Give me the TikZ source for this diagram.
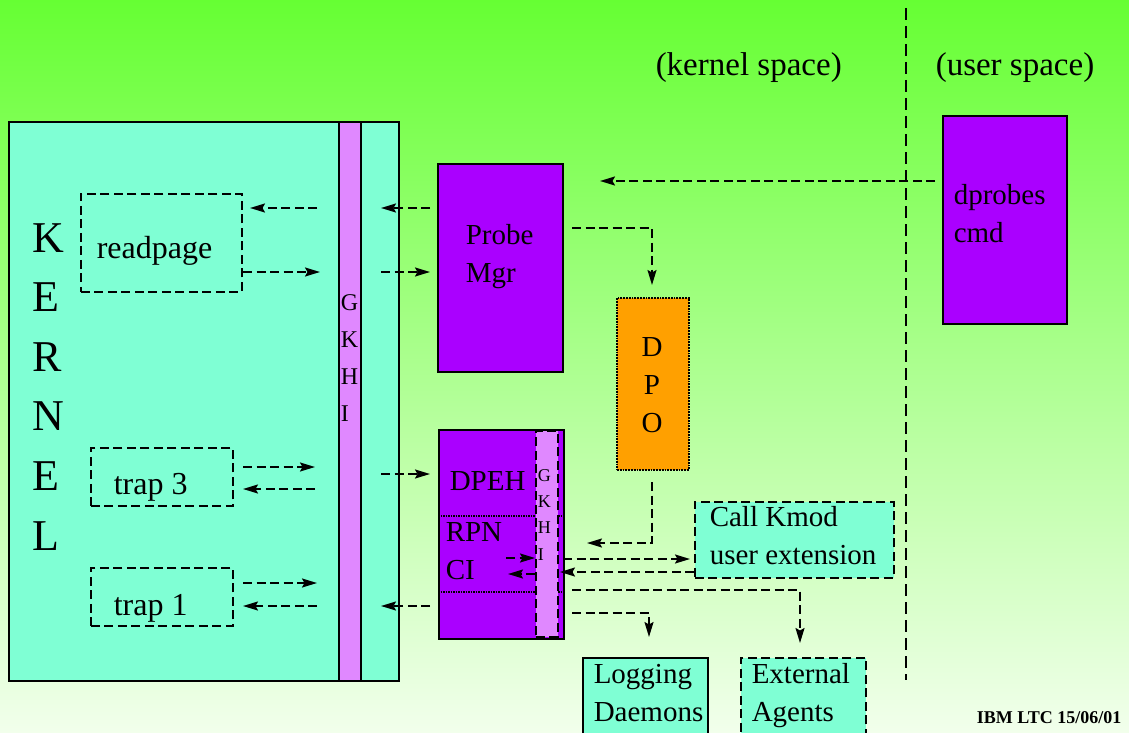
\documentclass[tikz,border=0pt]{standalone}
\usepackage{fontspec}
\setmainfont{Liberation Serif}
\usetikzlibrary{arrows.meta}

\begin{document}
\begin{tikzpicture}[x=1pt, y=-1pt, line width=1.5pt]
\definecolor{topgreen}{RGB}{102, 255, 51}
\definecolor{botgreen}{RGB}{242, 255, 236}
\definecolor{kernaqua}{RGB}{127, 255, 212}
\definecolor{probeviolet}{RGB}{170, 0, 255}
\definecolor{hookpink}{RGB}{224, 136, 255}
\definecolor{dpoorange}{RGB}{255, 160, 0}
\tikzset{
    box/.style={draw, line width=1.8pt, anchor=north west, inner sep=0pt},
    dashbox/.style={box, dash pattern=on 9pt off 4.5pt},
    flow/.style={-{Stealth[length=15pt, width=9pt, inset=2.5pt]}, line width=1.8pt, dash pattern=on 9pt off 4.5pt},
    txt/.style={font=\fontsize{29}{38}\selectfont, align=left, inner sep=0pt, anchor=base west},
    bigtxt/.style={txt, font=\fontsize{32}{38}\selectfont},
    hooktxt/.style={txt, font=\fontsize{24}{37}\selectfont},
}
\useasboundingbox (0,0) rectangle (1129,733);
\shade[top color=topgreen, bottom color=botgreen] (0,0) rectangle (1129,733);
% kernel side (multi-line texts sit on their last baseline)
\node[box, fill=kernaqua, minimum width=390pt, minimum height=559pt] (kernel) at (8,121) {};
\node[box, fill=hookpink, minimum width=22pt, minimum height=559pt] (gkhi) at (338,121) {};
\node[txt, font=\fontsize{44}{59.6}\selectfont] (kname) at (32,550) {K\\E\\R\\N\\E\\L};
\node[hooktxt] (gkhiname) at (340,421) {G\\K\\H\\I};
\node[dashbox, minimum width=161pt, minimum height=98pt] (readbox) at (80,193) {};
\node[bigtxt] (readname) at (96,258) {readpage};
\node[dashbox, minimum width=142pt, minimum height=58pt] (trapthree) at (90,447) {};
\node[bigtxt] (trapthreename) at (113,494) {trap 3};
\node[dashbox, minimum width=142pt, minimum height=58pt] (trapone) at (90,567) {};
\node[bigtxt] (traponename) at (113,615) {trap 1};
% probe manager, DPO, command
\node[box, fill=probeviolet, minimum width=125pt, minimum height=208pt] (probemgr) at (437,163) {};
\node[txt] (probename) at (465,282) {Probe\\Mgr};
\node[box, fill=dpoorange, densely dotted, minimum width=72pt, minimum height=172pt] (dpo) at (616,297) {};
\node[txt, align=center, anchor=base] (dponame) at (652,432) {D\\P\\O};
\node[box, fill=probeviolet, minimum width=124pt, minimum height=208pt] (dprobes) at (942,115) {};
\node[txt] (dprobesname) at (953,242) {dprobes\\cmd};
% handler
\node[box, fill=probeviolet, minimum width=125pt, minimum height=209pt] (dpeh) at (438,429) {};
\draw[densely dotted] (438,516) -- (563,516) (438,592) -- (563,592);
\node[box, fill=hookpink, dash pattern=on 9pt off 4.5pt, minimum width=22pt, minimum height=206pt] (dpehhook) at (535,430) {};
\node[txt, font=\fontsize{18}{26.3}\selectfont] (dpehhookname) at (537,560) {G\\K\\H\\I};
\node[txt] (dpehname) at (449,490) {DPEH};
\node[txt] (rpnname) at (445,579) {RPN\\CI};
% outside receivers
\node[dashbox, fill=kernaqua, minimum width=199pt, minimum height=76pt] (callkmod) at (694,501) {};
\node[txt] (callkmodname) at (709,564) {Call Kmod\\user extension};
\node[box, fill=kernaqua, minimum width=125pt, minimum height=90pt] (logging) at (582,657) {};
\node[txt] (loggingname) at (593,721) {Logging\\Daemons};
\node[dashbox, fill=kernaqua, minimum width=125pt, minimum height=90pt] (external) at (740,657) {};
\node[txt] (externalname) at (751,721) {External\\Agents};
% space labels
\node[txt, font=\fontsize{33}{38}\selectfont] (kspace) at (655,76) {(kernel space)};
\node[txt, font=\fontsize{33}{38}\selectfont] (uspace) at (935,76) {(user space)};
\node[inner sep=0pt, anchor=base east, font=\fontsize{18}{20}\selectfont\bfseries] (stamp) at (1122,723) {IBM LTC 15/06/01};
\coordinate (divtop) at (906,8);
\coordinate (divbot) at (906,680);
\draw[line width=1.8pt, dash pattern=on 12pt off 6pt] (divtop) -- (divbot);
% arrow ends
\foreach \n/\x/\y in {a1/317/208, b1/250/208, a2/243/272, b2/320/272,
    a3/430/208, b3/381/208, a4/381/272, b4/430/272,
    a5/243/467, b5/315/467, a6/315/489, b6/243/489,
    a7/243/583, b7/317/583, a8/317/606, b8/243/606,
    a9/381/474, b9/430/474, a10/430/606, b10/381/606,
    a11/935/181, b11/600/181, a12/572/228, b12/652/285,
    a13/652/482, b13/587/543, a14/506/558, b14/535/558,
    a15/535/574, b15/508/574, a16/563/559, b16/690/559,
    a17/694/572, b17/560/572, a18/572/590, b18/800/643,
    a19/572/613, b19/649/637}
    \coordinate (\n) at (\x,\y);
\foreach \i in {1,...,11,14,15,16,17}
    \draw[flow] (a\i) -- (b\i);
\draw[flow] (a12) -| (b12);
\draw[flow] (a13) |- (b13);
\draw[flow] (a18) -| (b18);
\draw[flow] (a19) -| (b19);
\end{tikzpicture}
\end{document}
